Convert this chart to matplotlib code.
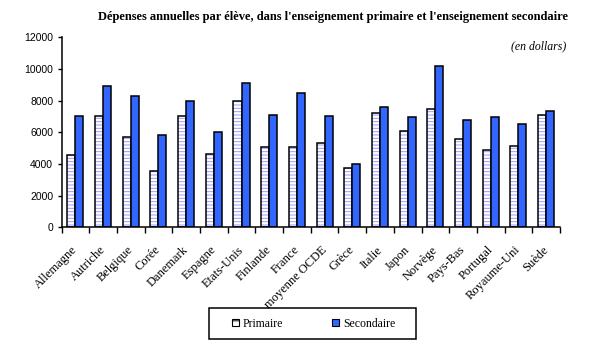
import matplotlib
matplotlib.use("Agg")
import matplotlib.pyplot as plt
from matplotlib.patches import Patch, Rectangle
import matplotlib.transforms as mtransforms
import numpy as np

categories = ["Allemagne", "Autriche", "Belgique", "Corée", "Danemark", "Espagne",
              "Etats-Unis", "Finlande", "France", "moyenne OCDE", "Grèce", "Italie",
              "Japon", "Norvège", "Pays-Bas", "Portugal", "Royaume-Uni", "Suède"]
primaire = [4550, 7000, 5700, 3550, 7000, 4600, 8000, 5100, 5050, 5300,
            3750, 7200, 6100, 7500, 5550, 4900, 5150, 7100]
secondaire = [7000, 8900, 8300, 5850, 8000, 6000, 9100, 7100, 8500, 7000,
              4000, 7570, 6950, 10200, 6800, 6950, 6500, 7350]
yticks = [0, 2000, 4000, 6000, 8000, 10000, 12000]

serif = "Liberation Serif"
sans = "Liberation Sans"
blue = "#3366ff"
hatchc = "#9999ff"
plt.rcParams['hatch.linewidth'] = 0.7
plt.rcParams['hatch.color'] = hatchc

fig = plt.figure(figsize=(5.97, 3.53), dpi=100)
ax = fig.add_axes([61.5/597, 1-227.3/353, (560-61.5)/597, 190/353])

x = np.arange(len(categories))
w = 0.29

# primaire: hatched fill then black outline
ax.bar(x - w/2, primaire, w, color="white", edgecolor=hatchc, hatch="-----", linewidth=0)
ax.bar(x - w/2, primaire, w, fill=False, edgecolor="black", linewidth=1.1)
ax.bar(x + w/2, secondaire, w, color=blue, edgecolor="black", linewidth=1.1)

ax.set_xlim(-0.5, len(categories) - 0.5)
ax.set_ylim(0, 12000)
ax.set_yticks(yticks)
ax.set_yticklabels([str(v) for v in yticks], fontfamily=sans, fontsize=7.5)
ax.tick_params(axis='y', direction='out', length=3, width=1, pad=3)

ax.set_xticks(np.arange(len(categories) + 1) - 0.5)
ax.set_xticklabels([])
ax.tick_params(axis='x', direction='out', length=4, width=1)
ax.set_xticks(x, minor=True)
labels = ax.set_xticklabels(categories, minor=True, rotation=45, ha='right', va='top',
                            rotation_mode='anchor', fontfamily=serif, fontsize=9)
ax.tick_params(axis='x', which='minor', length=0, pad=12)
offset = mtransforms.ScaledTranslation(-4/100, 0, fig.dpi_scale_trans)
for lab in ax.get_xticklabels(minor=True):
    lab.set_transform(lab.get_transform() + offset)

for s in ['top', 'right']:
    ax.spines[s].set_visible(False)
for s in ['left', 'bottom']:
    ax.spines[s].set_linewidth(1.1)

fig.text(568/597, 1-17/353, "Dépenses annuelles par élève, dans l'enseignement primaire et l'enseignement secondaire",
         ha='right', va='center', fontfamily=serif, fontweight='bold', fontsize=9)
fig.text(566/597, 1-46/353, "(en dollars)", ha='right', va='center',
         fontfamily=serif, fontstyle='italic', fontsize=8.5)

h1 = Patch(facecolor="white", edgecolor="black", hatch="--", linewidth=0.8)
h2 = Patch(facecolor=blue, edgecolor="black", linewidth=0.8)
leg = fig.legend([h1, h2], ["Primaire", "Secondaire"], ncol=2,
                 loc='center', bbox_to_anchor=(313.5/597, 1-323.8/353),
                 prop={'family': serif, 'size': 8.5}, frameon=False,
                 handlelength=0.6, handleheight=0.6,
                 handletextpad=0.34, columnspacing=4.15, borderpad=0,
                 borderaxespad=0)
fig.patches.append(Rectangle((209/597, 1-339.3/353), 207/597, 31/353,
                             transform=fig.transFigure, fill=False,
                             edgecolor='black', linewidth=1.1))

fig.savefig("out.png", dpi=100)
